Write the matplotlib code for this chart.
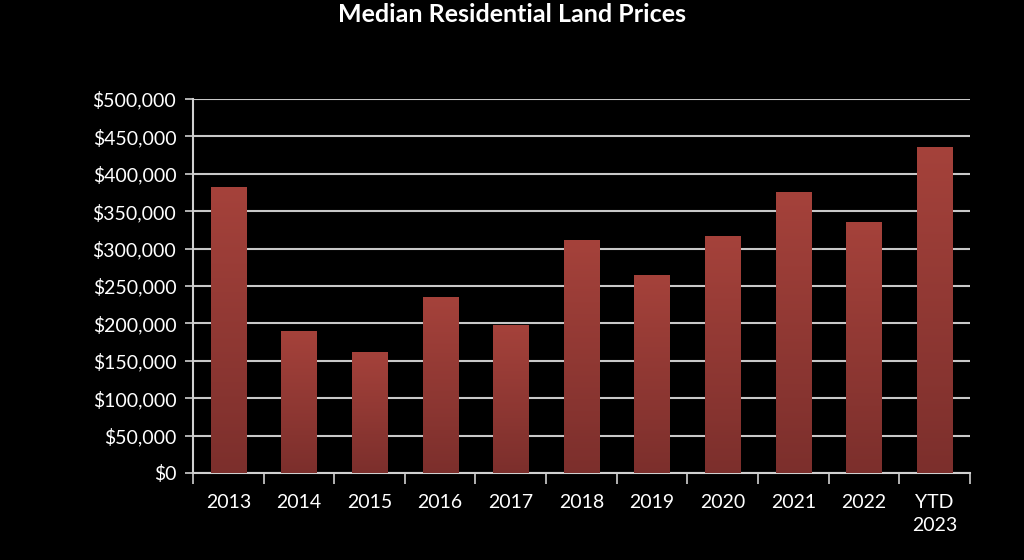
import numpy as np
import matplotlib.pyplot as plt
from matplotlib.ticker import FuncFormatter
from matplotlib.colors import LinearSegmentedColormap

years = ["2013", "2014", "2015", "2016", "2017", "2018", "2019", "2020", "2021", "2022", "YTD\n2023"]
prices = [382000, 190000, 162000, 235000, 198000, 311000, 265000, 317000, 376000, 336000, 436000]

plt.rcParams['font.family'] = ['Lato', 'DejaVu Sans']

fig = plt.figure(figsize=(10.24, 5.6), dpi=100, facecolor='black')
ax = fig.add_axes([0.1885, 0.1554, 0.7585, 0.6679], facecolor='black')

x = np.arange(len(years))
bars = ax.bar(x, prices, width=0.5, color='#A0403A', zorder=3)

# vertical gradient inside each bar
grad = np.linspace(0, 1, 256).reshape(-1, 1)
cmap = LinearSegmentedColormap.from_list('bar', ['#7C2F2C', '#A5423B'])
for b in bars:
    im = ax.imshow(grad, cmap=cmap, aspect='auto', origin='lower',
                   extent=[b.get_x(), b.get_x() + b.get_width(), 0, b.get_height()],
                   zorder=4)
    im.set_clip_path(b)

ax.set_xlim(-0.5, len(years) - 0.5)
ax.set_ylim(0, 500000)
ax.set_yticks(np.arange(0, 500001, 50000))
ax.yaxis.set_major_formatter(FuncFormatter(lambda v, p: f"${v:,.0f}"))
ax.grid(axis='y', color='#C8C8C8', linewidth=1.5, zorder=1)

ax.set_xticks(x)
ax.set_xticklabels(years, linespacing=1.45, va='top')
ax.set_xticks(np.arange(-0.5, len(years)), minor=True)
ax.tick_params(axis='x', which='major', length=0, pad=15, colors='white', labelsize=14)
ax.tick_params(axis='x', which='minor', length=8, width=1.2, color='#D0D0D0', direction='out')
ax.tick_params(axis='y', length=6, width=1.2, color='#D0D0D0', colors='white', labelsize=14, pad=6)

for s in ['top', 'right']:
    ax.spines[s].set_visible(False)
for s in ['left', 'bottom']:
    ax.spines[s].set_color('#D0D0D0')
    ax.spines[s].set_linewidth(1.5)

fig.text(0.5, 0.975, "Median Residential Land Prices", ha='center', va='center',
         color='white', fontsize=18, fontweight='bold')

fig.savefig('out.png', dpi=100, facecolor='black')
